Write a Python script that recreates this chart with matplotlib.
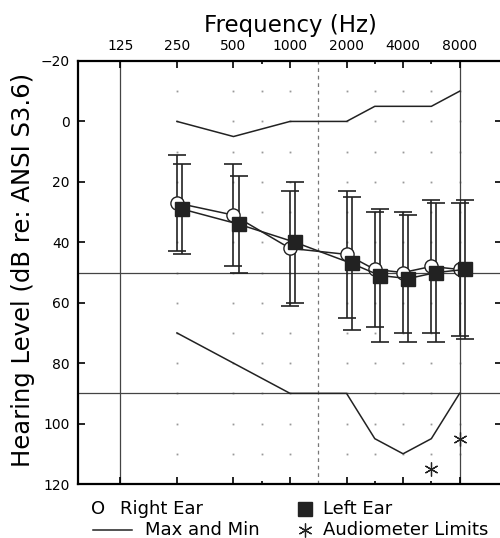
import numpy as np
import matplotlib
matplotlib.use("Agg")
from matplotlib import pyplot as plt
from matplotlib.lines import Line2D

plt.rcParams['font.family'] = ['DejaVu Sans']

# frequency axis is drawn on an evenly spaced octave index (125 Hz = 0)
freq_labels = ['125', '250', '500', '1000', '2000', '4000', '8000']
freqs = [250, 500, 1000, 2000, 3000, 4000, 6000, 8000]

right_ear = [27, 31, 42, 44, 49, 50, 48, 49]
right_lo = [11, 14, 23, 23, 30, 30, 26, 27]
right_hi = [43, 48, 61, 65, 68, 70, 70, 71]

left_ear = [29, 34, 40, 47, 51, 52, 50, 49]
left_lo = [14, 18, 20, 25, 29, 31, 27, 26]
left_hi = [44, 50, 60, 69, 73, 73, 73, 72]

max_line = [0, 5, 0, 0, -5, -5, -5, -10]
min_line = [70, 80, 90, 90, 105, 110, 105, 90]

limit_freqs = [6000, 8000]
limit_vals = [115, 105]


def half_pos(f):
    # half-octave frequencies sit midway between octaves on this chart
    f = np.atleast_1d(np.asarray(f, dtype=float))
    out = []
    for v in f:
        p = np.log2(v / 125.0)
        if abs(p - round(p)) > 1e-6:
            p = np.floor(p) + 0.5
        out.append(p)
    return np.array(out)


fig = plt.figure(figsize=(5.0, 5.38), dpi=100)
ax = fig.add_axes([78 / 500, 1 - 484 / 538, 424 / 500, 423 / 538])

x = half_pos(freqs)
dx = 0.09

# dotted grid
grid_x = half_pos([250, 500, 750, 1000, 2000, 3000, 4000, 6000, 8000])
for gy in range(-10, 120, 10):
    ax.plot(grid_x, [gy] * len(grid_x), ls='none', marker='s', ms=1.3,
            mew=0, color='#999999', zorder=1)

ax.axvline(0, color='#444444', lw=0.9, zorder=1)
ax.axvline(6, color='#444444', lw=0.9, zorder=1)
ax.axvline(3.5, color='#777777', lw=0.9, ls=(0, (3, 3)), zorder=1)
ax.axhline(50, color='#444444', lw=0.9, zorder=1)
ax.axhline(90, color='#444444', lw=0.9, zorder=1)

ax.plot(x, max_line, color='#222222', lw=1.1, zorder=2)
ax.plot(x, min_line, color='#222222', lw=1.1, zorder=2)
ax.plot(half_pos(limit_freqs), limit_vals, ls='none', marker=(6, 2, 0),
        ms=10, mew=0.9, color='#222222', zorder=2)

r = np.array(right_ear)
l = np.array(left_ear)
ax.errorbar(x, r, yerr=[r - np.array(right_lo), np.array(right_hi) - r],
            fmt='none', ecolor='#222222', elinewidth=1.2, capsize=6.5,
            capthick=1.2, zorder=3)
ax.errorbar(x + dx, l, yerr=[l - np.array(left_lo), np.array(left_hi) - l],
            fmt='none', ecolor='#222222', elinewidth=1.2, capsize=6.5,
            capthick=1.2, zorder=3)
ax.plot(x, r, color='#222222', lw=1.1, marker='o', ms=9.5, mfc='white',
        mec='#222222', mew=1.0, zorder=4)
ax.plot(x + dx, l, color='#222222', lw=1.1, marker='s', ms=9.5, mfc='#222222',
        mec='#222222', zorder=5)

ax.set_xlim(-0.75, 6.75)
ax.set_ylim(120, -20)
ax.set_yticks(range(-20, 121, 20))
ax.set_yticklabels([str(v).replace('-', '\u2212') for v in range(-20, 121, 20)],
                   fontsize=10)
ax.set_xticks(range(7))
ax.set_xticks([2.5, 4.5, 5.5], minor=True)
ax.set_xticklabels(freq_labels, fontsize=10)
ax.tick_params(axis='x', which='both', direction='in', top=True, bottom=True,
               labeltop=True, labelbottom=False, length=5, width=1.2, pad=6)
ax.tick_params(axis='x', which='minor', length=2)
ax.tick_params(axis='y', direction='in', left=True, right=True, length=5,
               width=1.2, pad=6)
for side in ['left', 'bottom', 'top']:
    ax.spines[side].set_linewidth(1.6)
ax.spines['right'].set_linewidth(1.2)
ax.set_title('Frequency (Hz)', fontsize=16.5, pad=21)

fig.text(23 / 500, 1 - 270 / 538, 'Hearing Level (dB re: ANSI S3.6)',
         rotation=90, ha='center', va='center', fontsize=17.5)

# legend drawn as figure text
ly1 = 1 - 509 / 538
ly2 = 1 - 530 / 538
fs = 13
fig.text(91 / 500, ly1, 'O', ha='left', va='center', fontsize=fs)
fig.text(120 / 500, ly1, 'Right Ear', ha='left', va='center', fontsize=fs)
fig.add_artist(Line2D([305 / 500], [ly1], marker='s', ms=10, color='#222222',
                      transform=fig.transFigure))
fig.text(323 / 500, ly1, 'Left Ear', ha='left', va='center', fontsize=fs)
fig.add_artist(Line2D([93 / 500, 132 / 500], [ly2, ly2], color='#222222',
                      lw=1.1, transform=fig.transFigure))
fig.text(145 / 500, ly2, 'Max and Min', ha='left', va='center', fontsize=fs)
fig.add_artist(Line2D([305 / 500], [ly2], marker=(6, 2, 0), ms=10, mew=0.9,
                      color='#222222', transform=fig.transFigure))
fig.text(323 / 500, ly2, 'Audiometer Limits', ha='left', va='center',
         fontsize=fs)

fig.savefig('out.png', dpi=100)
